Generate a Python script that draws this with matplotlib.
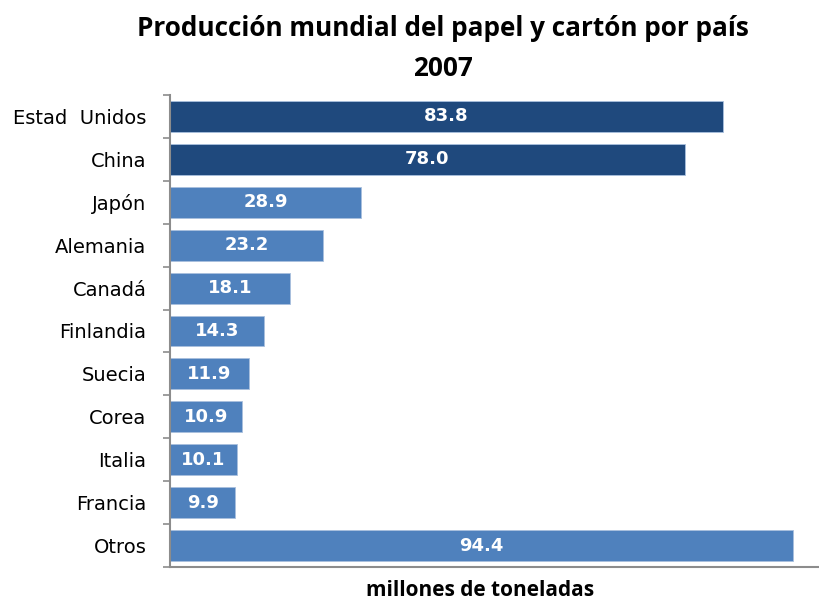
import matplotlib.pyplot as plt
import numpy as np

paises = ["Estad  Unidos", "China", "Japón", "Alemania", "Canadá", "Finlandia",
          "Suecia", "Corea", "Italia", "Francia", "Otros"]
produccion = [83.8, 78.0, 28.9, 23.2, 18.1, 14.3, 11.9, 10.9, 10.1, 9.9, 94.4]
colores = ["#1F497D", "#1F497D"] + ["#4F81BD"] * 9

fig = plt.figure(figsize=(8.19, 6.0), dpi=100)
ax = fig.add_axes([170 / 819, 33 / 600, 649 / 819, 472 / 600])

y = np.arange(len(paises))
ax.barh(y, produccion, height=0.72, color=colores, edgecolor="#A9C0DE", linewidth=0.6)

for yi, v in zip(y, produccion):
    ax.text(v / 2, yi, "%.1f" % v, ha="center", va="center", color="white",
            fontsize=13, fontweight="bold", family="DejaVu Sans")

ax.set_ylim(len(paises) - 0.5, -0.5)
ax.set_xlim(0, 98.3)
ax.set_yticks(y)
ax.set_yticklabels(paises, fontsize=14, family="DejaVu Sans")
ax.tick_params(axis="y", length=0, pad=17)
ax.set_yticks(np.arange(-0.5, len(paises)), minor=True)
ax.tick_params(axis="y", which="minor", length=5, color="#8C8C8C", width=1.2)
ax.set_xticks([])

for s in ["top", "right"]:
    ax.spines[s].set_visible(False)
for s in ["left", "bottom"]:
    ax.spines[s].set_color("#8C8C8C")
    ax.spines[s].set_linewidth(1.5)

fig.text(443 / 819, 1 - 28 / 600, "Producción mundial del papel y cartón por país",
         ha="center", va="center", fontsize=18.8, fontweight="bold", family="Open Sans")
fig.text(443 / 819, 1 - 68 / 600, "2007", ha="center", va="center",
         fontsize=18.8, fontweight="bold", family="Open Sans")
fig.text(480 / 819, 1 - 590 / 600, "millones de toneladas", ha="center", va="center",
         fontsize=15, fontweight="bold", family="Open Sans")

fig.savefig("out.png", dpi=100)
